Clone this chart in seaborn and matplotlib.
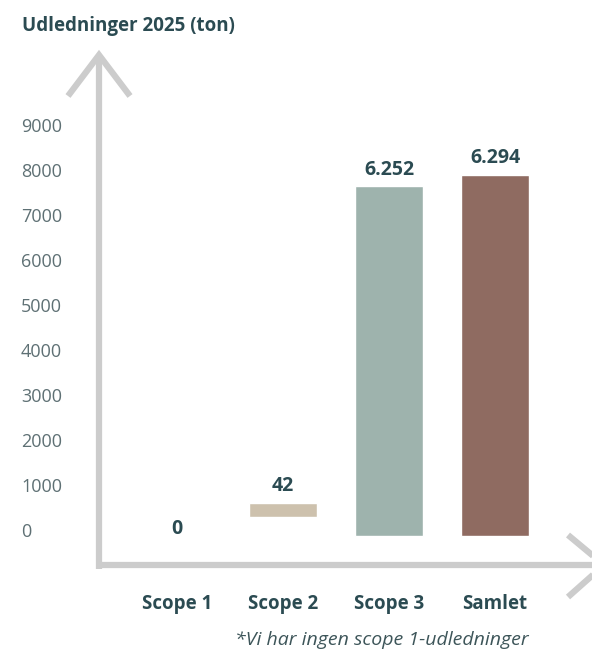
import matplotlib.pyplot as plt
import pandas as pd
import seaborn as sns
from matplotlib.lines import Line2D

# data aflaest fra billedet
kategorier = ["Scope 1", "Scope 2", "Scope 3", "Samlet"]
etiketter = ["0", "42", "6.252", "6.294"]
# bjaelkernes top og bund som de staar paa den viste akse (ton)
bjaelke_top = [0, 600, 7640, 7890]
bjaelke_bund = [0, 290, -130, -130]
farver = ["#cdc1ad", "#cdc1ad", "#9eb3ad", "#8f6b61"]
y_ticks = [0, 1000, 2000, 3000, 4000, 5000, 6000, 7000, 8000, 9000]

df = pd.DataFrame({"kategori": kategorier, "top": bjaelke_top, "bund": bjaelke_bund})

sns.set_theme(style="white")
plt.rcParams["font.family"] = ["Open Sans", "DejaVu Sans"]

W, H = 592, 651
mork = "#2b4b52"
graa = "#cccccc"


def fx(x):
    return x / W


def fy(y):
    return 1 - y / H


fig = plt.figure(figsize=(W / 100, H / 100), dpi=100)
ax = fig.add_axes([fx(98), fy(566), (592 - 98) / W, (566 - 52) / H])

sns.barplot(data=df, x="kategori", y="top", hue="kategori", palette=farver,
            width=0.64, saturation=1, legend=False, ax=ax)

# flyt bjaelkernes bund
for p in ax.patches:
    i = int(round(p.get_x() + p.get_width() / 2))
    p.set_y(bjaelke_bund[i])
    p.set_height(bjaelke_top[i] - bjaelke_bund[i])

ax.set_xlim(-0.745, 3.915)
ax.set_ylim(-800, 10622)

for i, (etiket, top) in enumerate(zip(etiketter, bjaelke_top)):
    ax.annotate(etiket, xy=(i, top), xytext=(0, 12 if top > 0 else 1),
                textcoords="offset points", ha="center", va="center",
                fontsize=14, fontweight="bold", color=mork)

ax.set_yticks(y_ticks)
ax.tick_params(axis="y", length=0, pad=55.4, labelsize=13, labelcolor="#5e7074")
for lbl in ax.get_yticklabels():
    lbl.set_ha("left")
ax.tick_params(axis="x", length=0, pad=20, labelsize=13.5, labelcolor=mork)
for lbl in ax.get_xticklabels():
    lbl.set_fontweight("bold")
ax.set_xlabel("")
ax.set_ylabel("")
for s in ax.spines.values():
    s.set_visible(False)

# pile-akser
lw = 4.5
def linje(xs, ys):
    fig.add_artist(Line2D([fx(x) for x in xs], [fy(y) for y in ys], color=graa, lw=lw,
                          solid_capstyle="butt", solid_joinstyle="miter"))

linje([99, 99], [56, 569])
linje([96, 604], [565, 565])
linje([68, 99, 130], [96, 55, 96])
linje([568, 604, 568], [535, 565, 597])

fig.text(fx(22), fy(26), "Udledninger 2025 (ton)", fontsize=13.5, fontweight="bold",
         color=mork, va="center")
fig.text(fx(382), fy(640), "*Vi har ingen scope 1-udledninger", fontsize=14,
         style="italic", color="#3d5559", ha="center", va="center")

fig.savefig("out.png", dpi=100)
